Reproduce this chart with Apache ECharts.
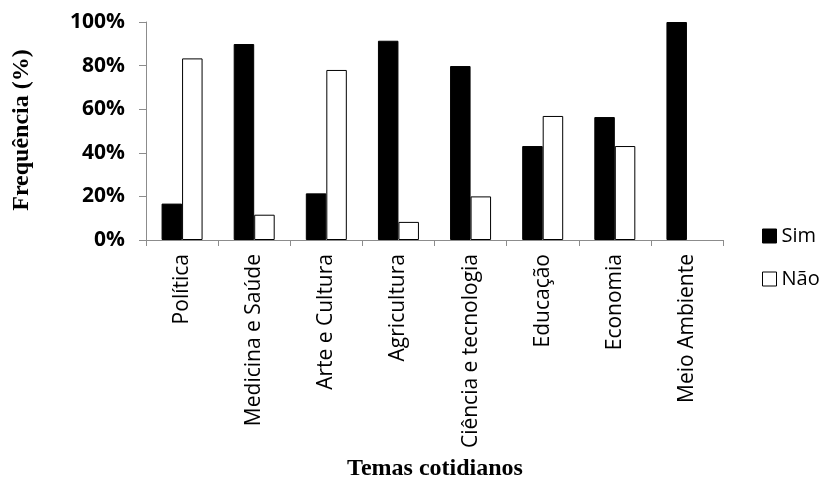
<!DOCTYPE html>
<html>
<head>
<meta charset="utf-8">
<script src="https://cdn.jsdelivr.net/npm/echarts@6/dist/echarts.min.js"></script>
<style>html,body{margin:0;padding:0;background:#fff}#c{width:824px;height:482px}</style>
</head>
<body>
<div id="c"></div>
<script>
var categories = ['Política','Medicina e Saúde','Arte e Cultura','Agricultura','Ciência e tecnologia','Educação','Economia','Meio Ambiente'];
var simValues = [16.7, 89.9, 21.4, 91.4, 79.8, 43.1, 56.4, 100];
var naoValues = [83.3, 11.6, 78.0, 8.3, 20.0, 56.9, 43.1, 0];
var yTicks = [0, 20, 40, 60, 80, 100];

function toItems(arr) {
  return arr.map(function (v) { return v === 0 ? { value: v, itemStyle: { borderWidth: 0 } } : v; });
}

var chart = echarts.init(document.getElementById('c'));
chart.setOption({
  animation: false,
  backgroundColor: '#fff',
  grid: { left: 146, right: 101, top: 22, bottom: 242 },
  legend: {
    orient: 'vertical', left: 757, top: 221, itemWidth: 14, itemHeight: 14, itemGap: 23,
    textStyle: { fontFamily: 'Open Sans', fontSize: 20, color: '#000' },
    data: [
      { name: 'Sim', icon: 'rect', itemStyle: { color: '#000', borderColor: '#000', borderWidth: 1 } },
      { name: 'Não', icon: 'rect', itemStyle: { color: '#fff', borderColor: '#000', borderWidth: 1 } }
    ]
  },
  xAxis: {
    type: 'category', data: categories,
    axisLine: { lineStyle: { color: '#8c8c8c', width: 1 } },
    axisTick: { show: true, length: 6, lineStyle: { color: '#8c8c8c' } },
    axisLabel: { rotate: 90, margin: 14, fontFamily: 'Open Sans', fontSize: 21, color: '#000', interval: 0 }
  },
  yAxis: {
    type: 'value', min: yTicks[0], max: yTicks[yTicks.length - 1], interval: 20,
    axisLine: { show: true, lineStyle: { color: '#8c8c8c', width: 1 } },
    axisTick: { show: true, length: 7, lineStyle: { color: '#8c8c8c' } },
    splitLine: { show: false },
    axisLabel: { margin: 21, fontFamily: 'Open Sans', fontWeight: 'bold', fontSize: 21, color: '#000', formatter: '{value}%' }
  },
  graphic: [
    { type: 'text', x: 22, y: 130, rotation: Math.PI / 2,
      style: { text: 'Frequência (%)', font: 'bold 24px "Liberation Serif"', fill: '#000', align: 'center', verticalAlign: 'middle' } },
    { type: 'text', x: 435, y: 469,
      style: { text: 'Temas cotidianos', font: 'bold 24px "Liberation Serif"', fill: '#000', align: 'center', verticalAlign: 'middle' } }
  ],
  series: [
    { name: 'Sim', type: 'bar', data: toItems(simValues), barWidth: 20.5, barGap: '0%',
      itemStyle: { color: '#000', borderColor: '#000', borderWidth: 1 } },
    { name: 'Não', type: 'bar', data: toItems(naoValues), barWidth: 20.5, barGap: '0%',
      itemStyle: { color: '#fff', borderColor: '#000', borderWidth: 1 } }
  ]
});
</script>
</body>
</html>
